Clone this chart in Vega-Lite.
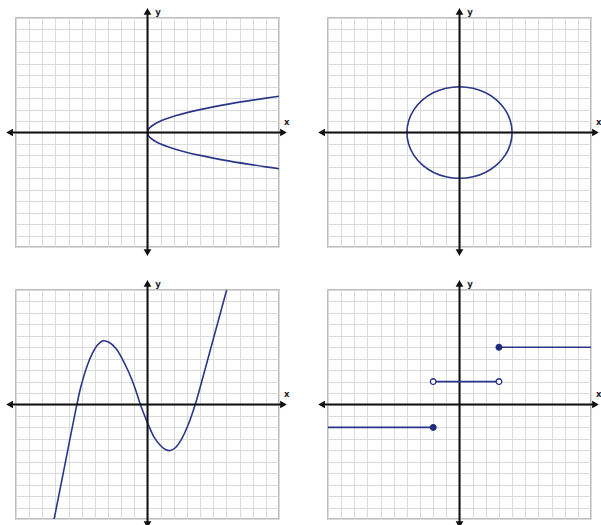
{
  "$schema": "https://vega.github.io/schema/vega-lite/v6.json",
  "padding": {"left": 5, "top": 6, "right": 5, "bottom": 5},
  "background": "#ffffff",
  "columns": 2,
  "spacing": {"row": 43, "column": 49},
  "bounds": "flush",
  "config": {
    "view": {"stroke": "#a6a6a6", "strokeWidth": 1.5},
    "axis": {"grid": true, "labels": false, "ticks": false, "domain": false, "tickCount": 20, "gridColor": "#dadada", "gridWidth": 1, "gridOpacity": 1},
    "text": {"font": "DejaVu Sans"}
  },
  "datasets": {
    "axes": [{"x": -10.5, "x2": 10.35, "y": 0, "y2": 0}, {"x": 0, "x2": 0, "y": -10.5, "y2": 10.55}],
    "arrows": [{"x": -10.49, "y": 0, "dir": "left"}, {"x": 10.34, "y": 0, "dir": "right"}, {"x": 0, "y": 10.57, "dir": "up"}, {"x": 0, "y": -10.49, "dir": "down"}],
    "labels": [{"x": 10.58, "y": 0.95, "t": "x"}, {"x": 0.8, "y": 10.55, "t": "y"}],
    "parabola": [
      {"i": 0, "x": 10, "y": -3.162}, {"i": 1, "x": 9, "y": -3}, {"i": 2, "x": 6.25, "y": -2.5}, {"i": 3, "x": 4, "y": -2}, {"i": 4, "x": 2.25, "y": -1.5}, {"i": 5, "x": 1, "y": -1}, {"i": 6, "x": 0.49, "y": -0.7}, {"i": 7, "x": 0.16, "y": -0.4}, {"i": 8, "x": 0.04, "y": -0.2}, {"i": 9, "x": 0, "y": 0}, {"i": 10, "x": 0.04, "y": 0.2}, {"i": 11, "x": 0.16, "y": 0.4}, {"i": 12, "x": 0.49, "y": 0.7}, {"i": 13, "x": 1, "y": 1}, {"i": 14, "x": 2.25, "y": 1.5}, {"i": 15, "x": 4, "y": 2}, {"i": 16, "x": 6.25, "y": 2.5}, {"i": 17, "x": 9, "y": 3}, {"i": 18, "x": 10, "y": 3.162}
    ],
    "circle": [
      {"i": 0, "x": 4, "y": 0}, {"i": 1, "x": 3.864, "y": 1.035}, {"i": 2, "x": 3.464, "y": 2}, {"i": 3, "x": 2.828, "y": 2.828}, {"i": 4, "x": 2, "y": 3.464}, {"i": 5, "x": 1.035, "y": 3.864}, {"i": 6, "x": 0, "y": 4}, {"i": 7, "x": -1.035, "y": 3.864}, {"i": 8, "x": -2, "y": 3.464}, {"i": 9, "x": -2.828, "y": 2.828}, {"i": 10, "x": -3.464, "y": 2}, {"i": 11, "x": -3.864, "y": 1.035}, {"i": 12, "x": -4, "y": 0}, {"i": 13, "x": -3.864, "y": -1.035}, {"i": 14, "x": -3.464, "y": -2}, {"i": 15, "x": -2.828, "y": -2.828}, {"i": 16, "x": -2, "y": -3.464}, {"i": 17, "x": -1.035, "y": -3.864}, {"i": 18, "x": 0, "y": -4}, {"i": 19, "x": 1.035, "y": -3.864}, {"i": 20, "x": 2, "y": -3.464}, {"i": 21, "x": 2.828, "y": -2.828}, {"i": 22, "x": 3.464, "y": -2}, {"i": 23, "x": 3.864, "y": -1.035}
    ],
    "cubic": [
      {"x": -7.1, "y": -10}, {"x": -6.6, "y": -7.1}, {"x": -6.1, "y": -4.2}, {"x": -5.6, "y": -1.3}, {"x": -5.1, "y": 1.4}, {"x": -4.6, "y": 3.35}, {"x": -4.2, "y": 4.45}, {"x": -3.8, "y": 5.2}, {"x": -3.37, "y": 5.56}, {"x": -2.9, "y": 5.42}, {"x": -2.4, "y": 4.9}, {"x": -1.9, "y": 3.95}, {"x": -1.4, "y": 2.75}, {"x": -1.0, "y": 1.6}, {"x": -0.6, "y": 0.2}, {"x": -0.3, "y": -0.75}, {"x": 0, "y": -1.6}, {"x": 0.5, "y": -2.85}, {"x": 1.0, "y": -3.6}, {"x": 1.4, "y": -3.95}, {"x": 1.73, "y": -4.02}, {"x": 2.1, "y": -3.8}, {"x": 2.6, "y": -3.0}, {"x": 3.1, "y": -1.75}, {"x": 3.63, "y": 0}, {"x": 4.26, "y": 2.58}, {"x": 5.02, "y": 5.79}, {"x": 6.02, "y": 10}
    ],
    "steps": [
      {"seg": "a", "x": -10, "y": -2}, {"seg": "a", "x": -2, "y": -2},
      {"seg": "b", "x": -2, "y": 2}, {"seg": "b", "x": 3, "y": 2},
      {"seg": "c", "x": 3, "y": 5}, {"seg": "c", "x": 10, "y": 5}
    ],
    "dots": [
      {"x": -2, "y": -2, "kind": "closed"}, {"x": -2, "y": 2, "kind": "open"}, {"x": 3, "y": 2, "kind": "open"}, {"x": 3, "y": 5, "kind": "closed"}
    ]
  },
  "concat": [
    {
      "width": 263, "height": 229,
      "layer": [
        {"data": {"name": "parabola"}, "mark": {"type": "line", "color": "#2b3788", "strokeWidth": 1.6, "interpolate": "catmull-rom"},
         "encoding": {"x": {"field": "x", "type": "quantitative", "title": null, "scale": {"domain": [-10, 10], "nice": false, "zero": false}}, "y": {"field": "y", "type": "quantitative", "title": null, "scale": {"domain": [-10, 10], "nice": false, "zero": false}}, "order": {"field": "i"}}},
        {"data": {"name": "axes"}, "mark": {"type": "rule", "color": "#111111", "strokeWidth": 2},
         "encoding": {"x": {"field": "x", "type": "quantitative", "title": null, "scale": {"domain": [-10, 10], "nice": false, "zero": false}}, "x2": {"field": "x2"}, "y": {"field": "y", "type": "quantitative", "title": null, "scale": {"domain": [-10, 10], "nice": false, "zero": false}}, "y2": {"field": "y2"}}},
        {"data": {"name": "arrows"}, "mark": {"type": "point", "filled": true, "color": "#111111", "size": 60, "opacity": 1},
         "encoding": {"x": {"field": "x", "type": "quantitative", "title": null, "scale": {"domain": [-10, 10], "nice": false, "zero": false}}, "y": {"field": "y", "type": "quantitative", "title": null, "scale": {"domain": [-10, 10], "nice": false, "zero": false}}, "shape": {"field": "dir", "type": "nominal", "legend": null, "scale": {"domain": ["left", "right", "up", "down"], "range": ["triangle-left", "triangle-right", "triangle-up", "triangle-down"]}}}},
        {"data": {"name": "labels"}, "mark": {"type": "text", "fontSize": 8.5, "fontWeight": "bold", "color": "#222222", "align": "center", "baseline": "middle"},
         "encoding": {"x": {"field": "x", "type": "quantitative", "title": null, "scale": {"domain": [-10, 10], "nice": false, "zero": false}}, "y": {"field": "y", "type": "quantitative", "title": null, "scale": {"domain": [-10, 10], "nice": false, "zero": false}}, "text": {"field": "t"}}}
      ]
    },
    {
      "width": 263, "height": 229,
      "layer": [
        {"data": {"name": "circle"}, "mark": {"type": "line", "color": "#2b3788", "strokeWidth": 1.6, "interpolate": "cardinal-closed"},
         "encoding": {"x": {"field": "x", "type": "quantitative", "title": null, "scale": {"domain": [-10, 10], "nice": false, "zero": false}}, "y": {"field": "y", "type": "quantitative", "title": null, "scale": {"domain": [-10, 10], "nice": false, "zero": false}}, "order": {"field": "i"}}},
        {"data": {"name": "axes"}, "mark": {"type": "rule", "color": "#111111", "strokeWidth": 2},
         "encoding": {"x": {"field": "x", "type": "quantitative", "title": null, "scale": {"domain": [-10, 10], "nice": false, "zero": false}}, "x2": {"field": "x2"}, "y": {"field": "y", "type": "quantitative", "title": null, "scale": {"domain": [-10, 10], "nice": false, "zero": false}}, "y2": {"field": "y2"}}},
        {"data": {"name": "arrows"}, "mark": {"type": "point", "filled": true, "color": "#111111", "size": 60, "opacity": 1},
         "encoding": {"x": {"field": "x", "type": "quantitative", "title": null, "scale": {"domain": [-10, 10], "nice": false, "zero": false}}, "y": {"field": "y", "type": "quantitative", "title": null, "scale": {"domain": [-10, 10], "nice": false, "zero": false}}, "shape": {"field": "dir", "type": "nominal", "legend": null, "scale": {"domain": ["left", "right", "up", "down"], "range": ["triangle-left", "triangle-right", "triangle-up", "triangle-down"]}}}},
        {"data": {"name": "labels"}, "mark": {"type": "text", "fontSize": 8.5, "fontWeight": "bold", "color": "#222222", "align": "center", "baseline": "middle"},
         "encoding": {"x": {"field": "x", "type": "quantitative", "title": null, "scale": {"domain": [-10, 10], "nice": false, "zero": false}}, "y": {"field": "y", "type": "quantitative", "title": null, "scale": {"domain": [-10, 10], "nice": false, "zero": false}}, "text": {"field": "t"}}}
      ]
    },
    {
      "width": 263, "height": 229,
      "layer": [
        {"data": {"name": "cubic"}, "mark": {"type": "line", "color": "#2b3788", "strokeWidth": 1.6, "interpolate": "catmull-rom"},
         "encoding": {"x": {"field": "x", "type": "quantitative", "title": null, "scale": {"domain": [-10, 10], "nice": false, "zero": false}}, "y": {"field": "y", "type": "quantitative", "title": null, "scale": {"domain": [-10, 10], "nice": false, "zero": false}}}},
        {"data": {"name": "axes"}, "mark": {"type": "rule", "color": "#111111", "strokeWidth": 2},
         "encoding": {"x": {"field": "x", "type": "quantitative", "title": null, "scale": {"domain": [-10, 10], "nice": false, "zero": false}}, "x2": {"field": "x2"}, "y": {"field": "y", "type": "quantitative", "title": null, "scale": {"domain": [-10, 10], "nice": false, "zero": false}}, "y2": {"field": "y2"}}},
        {"data": {"name": "arrows"}, "mark": {"type": "point", "filled": true, "color": "#111111", "size": 60, "opacity": 1},
         "encoding": {"x": {"field": "x", "type": "quantitative", "title": null, "scale": {"domain": [-10, 10], "nice": false, "zero": false}}, "y": {"field": "y", "type": "quantitative", "title": null, "scale": {"domain": [-10, 10], "nice": false, "zero": false}}, "shape": {"field": "dir", "type": "nominal", "legend": null, "scale": {"domain": ["left", "right", "up", "down"], "range": ["triangle-left", "triangle-right", "triangle-up", "triangle-down"]}}}},
        {"data": {"name": "labels"}, "mark": {"type": "text", "fontSize": 8.5, "fontWeight": "bold", "color": "#222222", "align": "center", "baseline": "middle"},
         "encoding": {"x": {"field": "x", "type": "quantitative", "title": null, "scale": {"domain": [-10, 10], "nice": false, "zero": false}}, "y": {"field": "y", "type": "quantitative", "title": null, "scale": {"domain": [-10, 10], "nice": false, "zero": false}}, "text": {"field": "t"}}}
      ]
    },
    {
      "width": 263, "height": 229,
      "layer": [
        {"data": {"name": "axes"}, "mark": {"type": "rule", "color": "#111111", "strokeWidth": 2},
         "encoding": {"x": {"field": "x", "type": "quantitative", "title": null, "scale": {"domain": [-10, 10], "nice": false, "zero": false}}, "x2": {"field": "x2"}, "y": {"field": "y", "type": "quantitative", "title": null, "scale": {"domain": [-10, 10], "nice": false, "zero": false}}, "y2": {"field": "y2"}}},
        {"data": {"name": "steps"}, "mark": {"type": "line", "color": "#2b3788", "strokeWidth": 1.6},
         "encoding": {"x": {"field": "x", "type": "quantitative", "title": null, "scale": {"domain": [-10, 10], "nice": false, "zero": false}}, "y": {"field": "y", "type": "quantitative", "title": null, "scale": {"domain": [-10, 10], "nice": false, "zero": false}}, "detail": {"field": "seg"}}},
        {"data": {"name": "dots"}, "mark": {"type": "point", "filled": true, "stroke": "#1f2a80", "strokeWidth": 1.3, "size": 32, "opacity": 1},
         "encoding": {"x": {"field": "x", "type": "quantitative", "title": null, "scale": {"domain": [-10, 10], "nice": false, "zero": false}}, "y": {"field": "y", "type": "quantitative", "title": null, "scale": {"domain": [-10, 10], "nice": false, "zero": false}}, "fill": {"field": "kind", "type": "nominal", "legend": null, "scale": {"domain": ["closed", "open"], "range": ["#1f2a80", "#ffffff"]}}}},
        {"data": {"name": "arrows"}, "mark": {"type": "point", "filled": true, "color": "#111111", "size": 60, "opacity": 1},
         "encoding": {"x": {"field": "x", "type": "quantitative", "title": null, "scale": {"domain": [-10, 10], "nice": false, "zero": false}}, "y": {"field": "y", "type": "quantitative", "title": null, "scale": {"domain": [-10, 10], "nice": false, "zero": false}}, "shape": {"field": "dir", "type": "nominal", "legend": null, "scale": {"domain": ["left", "right", "up", "down"], "range": ["triangle-left", "triangle-right", "triangle-up", "triangle-down"]}}}},
        {"data": {"name": "labels"}, "mark": {"type": "text", "fontSize": 8.5, "fontWeight": "bold", "color": "#222222", "align": "center", "baseline": "middle"},
         "encoding": {"x": {"field": "x", "type": "quantitative", "title": null, "scale": {"domain": [-10, 10], "nice": false, "zero": false}}, "y": {"field": "y", "type": "quantitative", "title": null, "scale": {"domain": [-10, 10], "nice": false, "zero": false}}, "text": {"field": "t"}}}
      ]
    }
  ]
}
